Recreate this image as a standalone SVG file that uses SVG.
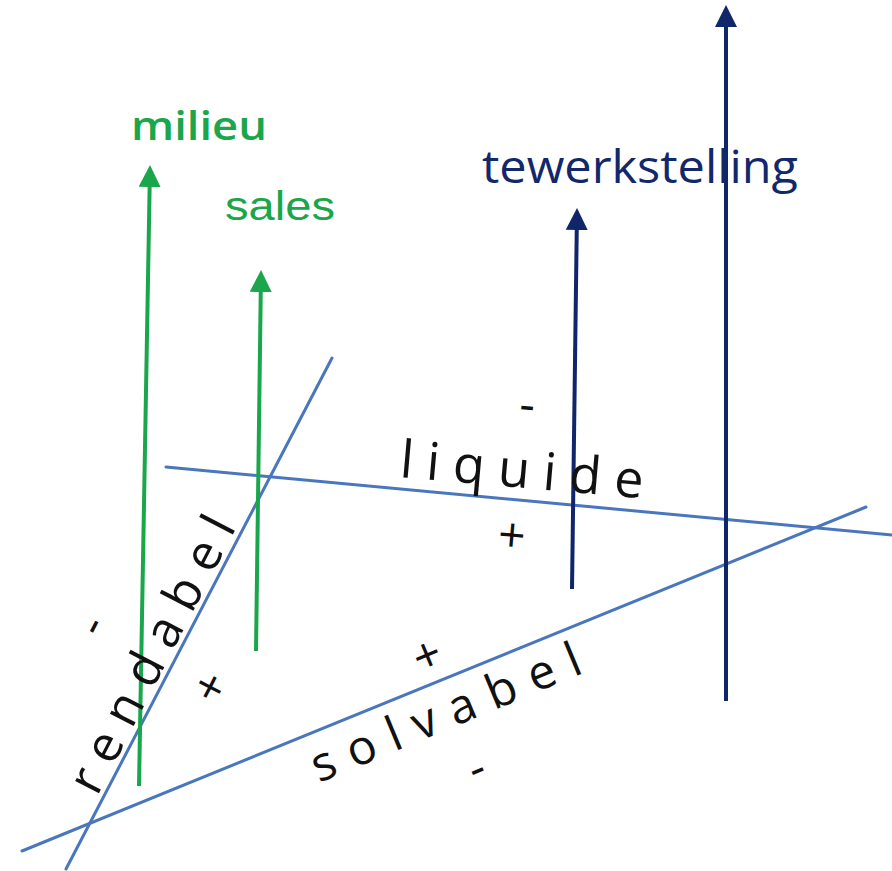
<svg xmlns="http://www.w3.org/2000/svg" width="892" height="871" viewBox="0 0 892 871">
  <style>
    .axis { stroke: #4a76bd; stroke-width: 3; fill: none; stroke-linecap: round; }
    .green { stroke: #1aa64a; stroke-width: 4; fill: none; }
    .navy { stroke: #10266a; stroke-width: 4; fill: none; }
    .lbl { font-family: "Open Sans", "Noto Sans", sans-serif; fill: #111; }
    .sign { font-family: "Open Sans", "Noto Sans", sans-serif; fill: #111; font-size: 48px; text-anchor: middle; }
  </style>
  <defs>
    <marker id="hg" markerUnits="userSpaceOnUse" markerWidth="22" markerHeight="22" viewBox="0 0 22 22" refX="4" refY="11" orient="auto">
      <path d="M0,0 L22,11 L0,22 Z" fill="#1aa64a"/>
    </marker>
    <marker id="hn" markerUnits="userSpaceOnUse" markerWidth="22" markerHeight="22" viewBox="0 0 22 22" refX="4" refY="11" orient="auto">
      <path d="M0,0 L22,11 L0,22 Z" fill="#10266a"/>
    </marker>
  </defs>
  <rect width="892" height="871" fill="#ffffff"/>

  <g id="connectors">
    <line id="axis-rendabel" class="axis" x1="66" y1="869" x2="332" y2="358"/>
    <line id="axis-liquide" class="axis" x1="166" y1="467" x2="892" y2="535"/>
    <line id="axis-solvabel" class="axis" x1="22" y1="851" x2="866" y2="507"/>
    <line id="arrow-milieu" class="green" x1="139" y1="786" x2="149.7" y2="183" marker-end="url(#hg)"/>
    <line id="arrow-sales" class="green" x1="256" y1="651" x2="260.8" y2="288" marker-end="url(#hg)"/>
    <line id="arrow-tew-small" class="navy" x1="572" y1="589" x2="576.8" y2="226" marker-end="url(#hn)"/>
    <line id="arrow-tew-big" class="navy" x1="726" y1="701" x2="726" y2="23" marker-end="url(#hn)"/>
  </g>

  <g id="node-milieu">
    <text x="131" y="140" font-family="Open Sans, Noto Sans, sans-serif" font-size="40" font-weight="600" fill="#1aa64a" textLength="136" lengthAdjust="spacingAndGlyphs">milieu</text>
  </g>
  <g id="node-sales">
    <text x="225" y="220" font-family="Liberation Sans, Arial, sans-serif" font-size="40" fill="#1aa64a" textLength="110" lengthAdjust="spacingAndGlyphs">sales</text>
  </g>
  <g id="node-tewerkstelling">
    <text x="482" y="183" font-family="Open Sans, Noto Sans, sans-serif" font-size="46" fill="#12286a" textLength="316" lengthAdjust="spacingAndGlyphs">tewerkstelling</text>
  </g>

  <g id="node-rendabel">
    <text class="lbl" font-size="50" transform="translate(97,797) rotate(-62.6)" x="0" y="0" textLength="304" lengthAdjust="spacing">rendabel</text>
    <text class="sign" transform="translate(95,627) rotate(-62.6)" x="0" y="12">-</text>
    <text class="sign" transform="translate(210,687) rotate(-62.6)" x="0" y="17">+</text>
  </g>
  <g id="node-liquide">
    <text class="lbl" font-size="52" transform="translate(399,477) rotate(5)" x="0" y="0" textLength="244" lengthAdjust="spacing">liquide</text>
    <text class="sign" transform="translate(527,409) rotate(5)" x="0" y="12">-</text>
    <text class="sign" transform="translate(512,535) rotate(5)" x="0" y="17">+</text>
  </g>
  <g id="node-solvabel">
    <text class="lbl" font-size="48" transform="translate(319,783) rotate(-22.6)" x="0" y="0" textLength="288" lengthAdjust="spacing">solvabel</text>
    <text class="sign" transform="translate(427,655) rotate(-22.6)" x="0" y="17">+</text>
    <text class="sign" transform="translate(478,772) rotate(-22.6)" x="0" y="12">-</text>
  </g>
</svg>
